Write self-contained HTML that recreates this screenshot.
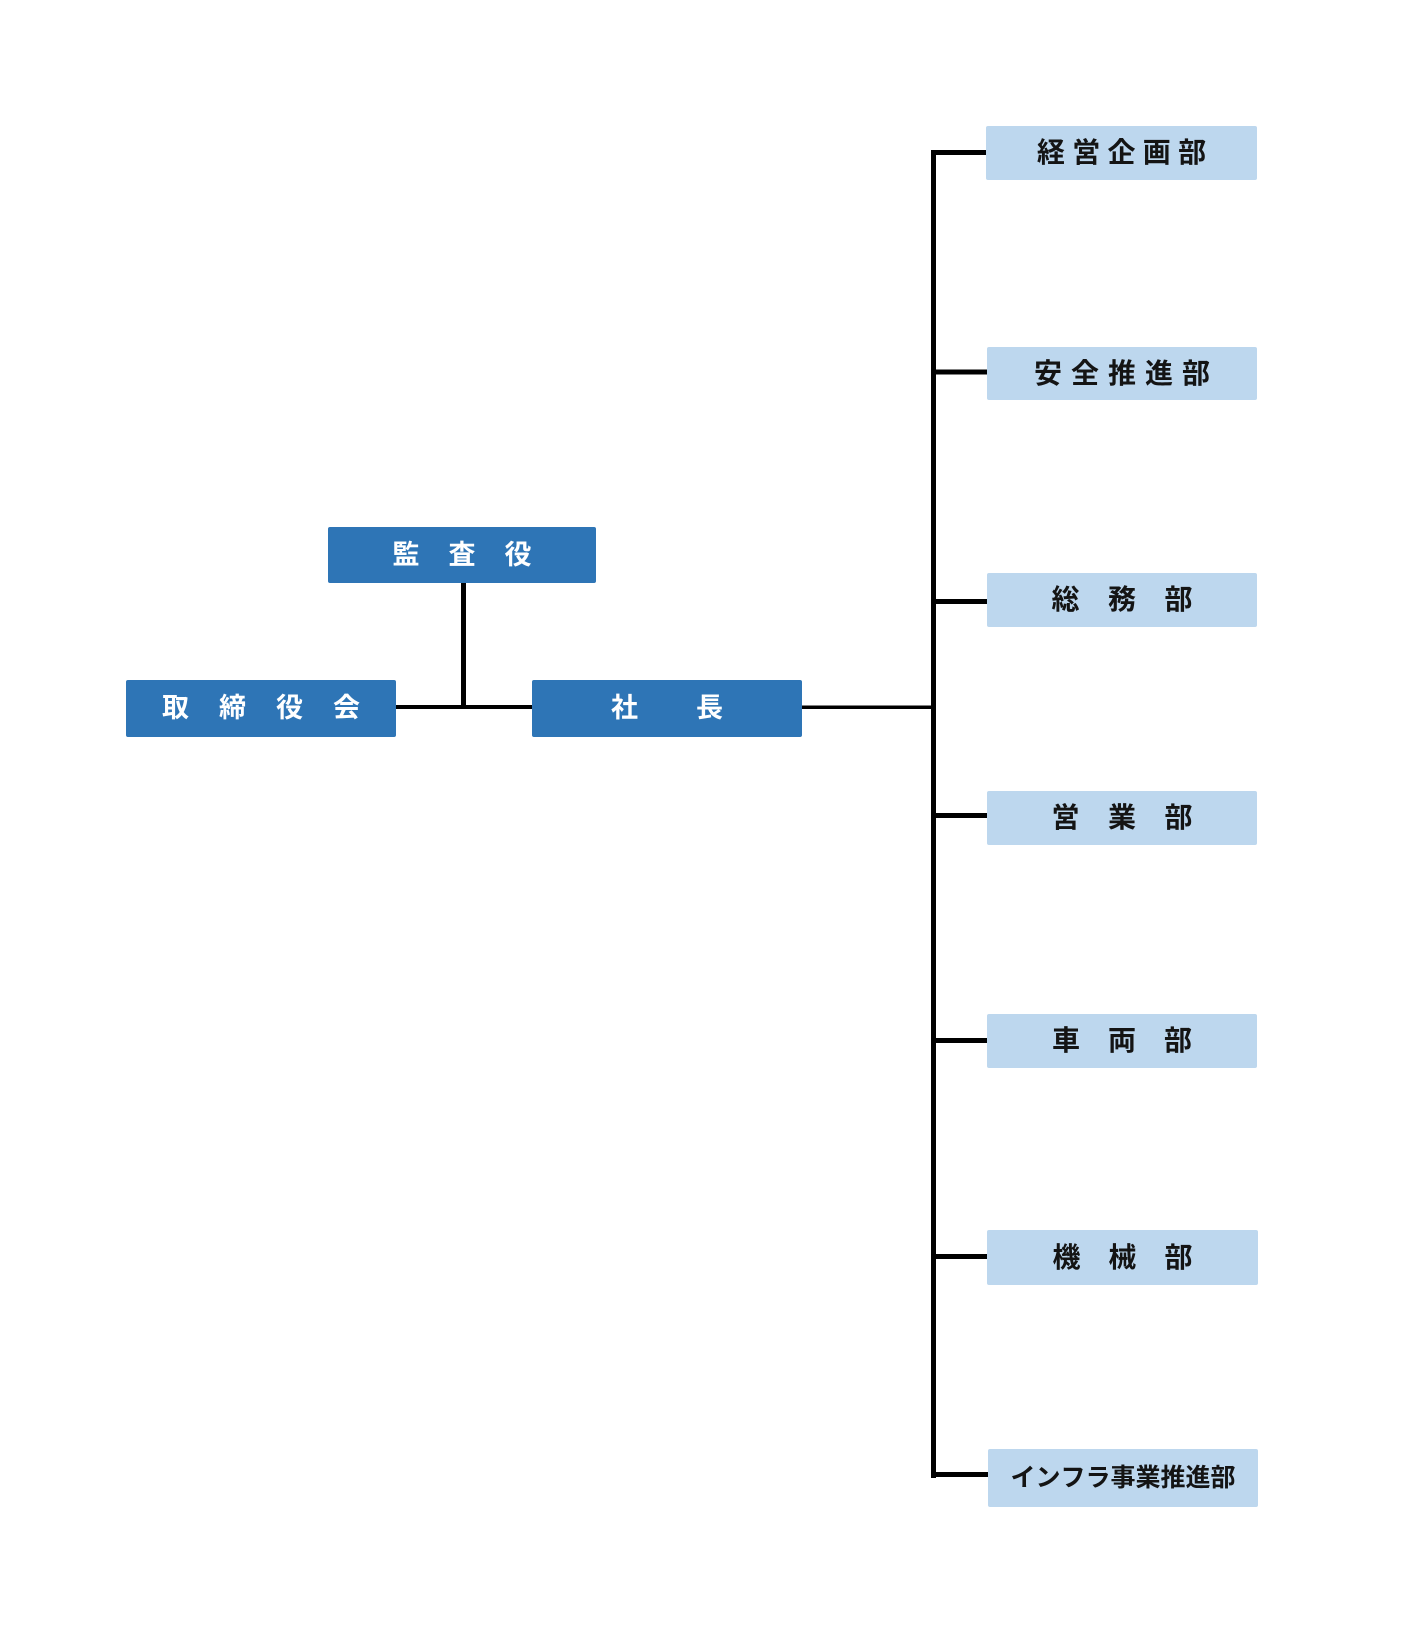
<!DOCTYPE html>
<html>
<head>
<meta charset="utf-8">
<style>
  html, body { margin:0; padding:0; background:#ffffff; }
  body { width:1409px; height:1646px; position:relative; overflow:hidden;
         font-family:"Liberation Sans","Noto Sans CJK JP",sans-serif; }
  .box { position:absolute; display:flex; align-items:center; justify-content:center;
         border-radius:2px; font-weight:bold; }
  .dark { background:#2e75b6; color:#ffffff; font-size:27px; }
  .light { background:#bdd7ee; color:#141414; font-size:28px; }
  .box span { display:inline-block; text-align:center; line-height:1; }
  svg { position:absolute; left:0; top:0; }
</style>
</head>
<body>
<svg width="1409" height="1646" viewBox="0 0 1409 1646">
  <g fill="#000">
    <!-- main vertical trunk -->
    <rect x="931" y="150" width="5" height="1328"/>
    <!-- branch connectors -->
    <rect x="931" y="150" width="56" height="5"/>
    <rect x="931" y="369.5" width="56" height="5"/>
    <rect x="931" y="599" width="56" height="5"/>
    <rect x="931" y="813" width="56" height="5"/>
    <rect x="931" y="1038" width="56" height="5"/>
    <rect x="931" y="1254" width="56" height="5"/>
    <rect x="931" y="1472" width="57" height="5"/>
    <!-- 社長 to trunk -->
    <rect x="802" y="705.5" width="132" height="3.5"/>
    <!-- 取締役会 to 社長 -->
    <rect x="396" y="705" width="136" height="4"/>
    <!-- 監査役 vertical -->
    <rect x="461" y="583" width="5" height="125"/>
  </g>
</svg>

<div class="box dark" style="left:328px;top:527px;width:268px;height:56px;">
  <span style="width:56px">監</span><span style="width:56px">査</span><span style="width:56px">役</span>
</div>

<div class="box dark" style="left:126px;top:680px;width:270px;height:57px;">
  <span style="width:57px">取</span><span style="width:57px">締</span><span style="width:57px">役</span><span style="width:57px">会</span>
</div>

<div class="box dark" style="left:532px;top:680px;width:270px;height:57px;">
  <span style="width:85px">社</span><span style="width:85px">長</span>
</div>

<div class="box light" style="left:986px;top:126px;width:271px;height:54px;">
  <span style="width:35.3px">経</span><span style="width:35.3px">営</span><span style="width:35.3px">企</span><span style="width:35.3px">画</span><span style="width:35.3px">部</span>
</div>

<div class="box light" style="left:987px;top:347px;width:270px;height:53px;">
  <span style="width:37px">安</span><span style="width:37px">全</span><span style="width:37px">推</span><span style="width:37px">進</span><span style="width:37px">部</span>
</div>

<div class="box light" style="left:987px;top:573px;width:270px;height:54px;">
  <span style="width:56.5px">総</span><span style="width:56.5px">務</span><span style="width:56.5px">部</span>
</div>

<div class="box light" style="left:987px;top:791px;width:270px;height:54px;">
  <span style="width:56.5px">営</span><span style="width:56.5px">業</span><span style="width:56.5px">部</span>
</div>

<div class="box light" style="left:987px;top:1014px;width:270px;height:54px;">
  <span style="width:56px">車</span><span style="width:56px">両</span><span style="width:56px">部</span>
</div>

<div class="box light" style="left:987px;top:1230px;width:271px;height:55px;">
  <span style="width:56px">機</span><span style="width:56px">械</span><span style="width:56px">部</span>
</div>

<div class="box light" style="left:988px;top:1449px;width:270px;height:58px;font-size:25px;">
  <span style="width:25px">イ</span><span style="width:25px">ン</span><span style="width:25px">フ</span><span style="width:25px">ラ</span><span style="width:25px">事</span><span style="width:25px">業</span><span style="width:25px">推</span><span style="width:25px">進</span><span style="width:25px">部</span>
</div>
</body>
</html>
